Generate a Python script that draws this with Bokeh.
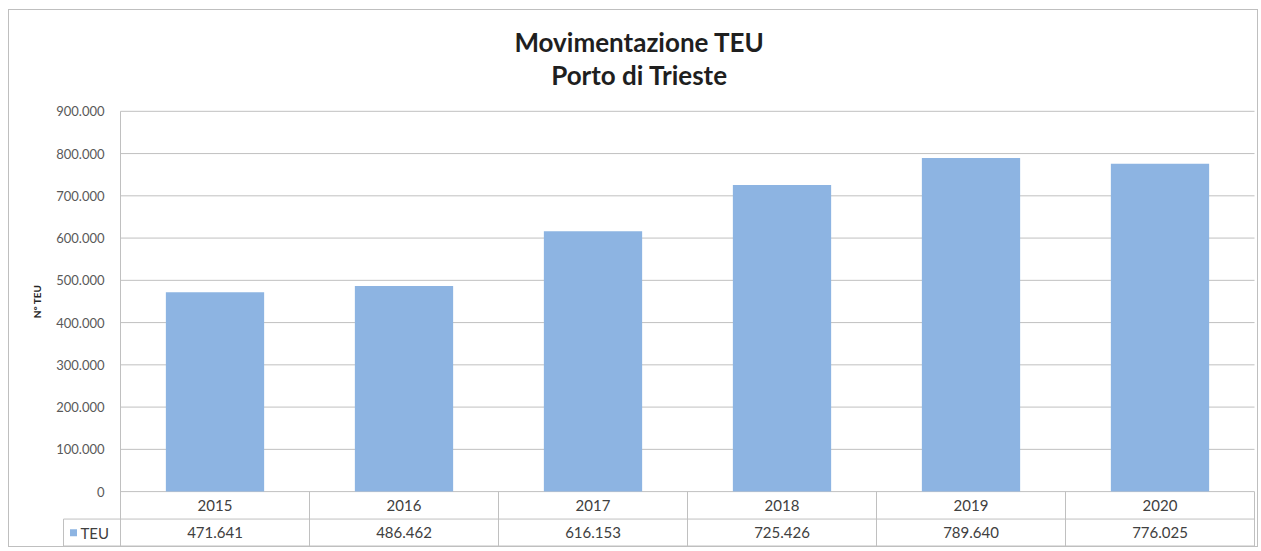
import math
from bokeh.plotting import figure
from bokeh.layouts import column
from bokeh.models import Range1d
from bokeh.core.properties import value
from bokeh.embed import file_html
from bokeh.resources import INLINE

years = ["2015", "2016", "2017", "2018", "2019", "2020"]
teu = [471641, 486462, 616153, 725426, 789640, 776025]
y_ticks = [0, 100000, 200000, 300000, 400000, 500000, 600000, 700000, 800000, 900000]
series_name = "TEU"
title_lines = ["Movimentazione TEU", "Porto di Trieste"]
y_label = "N° TEU"

def it_fmt(v):
    return f"{v:,}".replace(",", ".")

BAR = "#8DB4E2"
GRID = "#C0C0C0"
TXT = "#404040"
FONT = "Lato"

n = len(years)
xs = [i + 0.5 for i in range(n)]

# layout in pixels
W, H = 1248, 536
LEFT_PX, RIGHT_PX, TOP_PX = 111, 3, 101
col_w = (W - LEFT_PX - RIGHT_PX) / n      # px per category
plot_px = 381                             # px from 0 to top tick
row_px = 27.5                             # table row height
upp = y_ticks[-1] / plot_px               # data units per px
row_h = row_px * upp
leg_w = 57 / col_w
px = lambda d: d / col_w                  # horizontal px -> data

p = figure(width=W, height=H, output_backend="svg", toolbar_location=None,
           x_range=Range1d(-px(LEFT_PX), n + px(RIGHT_PX)),
           y_range=Range1d(-2 * row_h, y_ticks[-1] + TOP_PX * upp),
           x_axis_type=None, y_axis_type=None,
           min_border_left=0, min_border_right=0, min_border_top=0, min_border_bottom=0)
p.outline_line_color = None
p.background_fill_color = "white"
p.border_fill_color = "white"

# gridlines and value axis
p.segment(x0=[0] * len(y_ticks), y0=y_ticks, x1=[n] * len(y_ticks), y1=y_ticks,
          line_color=GRID, line_width=1)
p.segment(x0=[0], y0=[-2 * row_h], x1=[0], y1=[y_ticks[-1]], line_color=GRID, line_width=1)
p.text(x=[-px(16)] * len(y_ticks), y=y_ticks, text=[it_fmt(t) for t in y_ticks],
       text_align="right", text_baseline="middle", text_font=value(FONT),
       text_font_size="13px", text_color="#595959")
p.text(x=[-px(84)], y=[y_ticks[-1] / 2], text=[y_label], angle=math.pi / 2,
       text_align="center", text_baseline="middle", text_font=value(FONT),
       text_font_size="10px", text_font_style="bold", text_color="#262626")

# bars
p.vbar(x=xs, top=teu, width=0.52, bottom=0, fill_color=BAR, line_color=None)

# title
tx = px(639 - 9 - LEFT_PX)
p.text(x=[tx, tx], y=[y_ticks[-1] + 69 * upp, y_ticks[-1] + 36 * upp], text=title_lines,
       text_align="center", text_baseline="middle", text_font=value(FONT),
       text_font_size="26px", text_font_style="bold", text_color="#1F1F1F")

# data table
hy = [-row_h, -2 * row_h + 0.5 * upp]
p.segment(x0=[-leg_w] * 2, y0=hy, x1=[n] * 2, y1=hy, line_color=GRID, line_width=1)
vx = list(range(1, n + 1)) + [-leg_w]
vy1 = [0] * n + [-row_h]
p.segment(x0=vx, y0=[-2 * row_h] * (n + 1), x1=vx, y1=vy1, line_color=GRID, line_width=1)

p.text(x=xs, y=[-0.5 * row_h] * n, text=years, text_align="center", text_baseline="middle",
       text_font=value(FONT), text_font_size="15px", text_color=TXT)
p.text(x=xs, y=[-1.5 * row_h] * n, text=[it_fmt(v) for v in teu], text_align="center",
       text_baseline="middle", text_font=value(FONT), text_font_size="15px", text_color=TXT)

# legend cell
p.scatter(x=[-leg_w + px(10)], y=[-1.5 * row_h], marker="square", size=7,
          fill_color=BAR, line_color=None)
p.text(x=[-leg_w + px(17)], y=[-1.5 * row_h], text=[series_name], text_align="left",
       text_baseline="middle", text_font=value(FONT), text_font_size="15px", text_color=TXT)

layout = column(p, margin=(9, 0, 0, 8), styles={"border": "1px solid #BFBFBF"})
open("out.html", "w").write(file_html(layout, INLINE))
